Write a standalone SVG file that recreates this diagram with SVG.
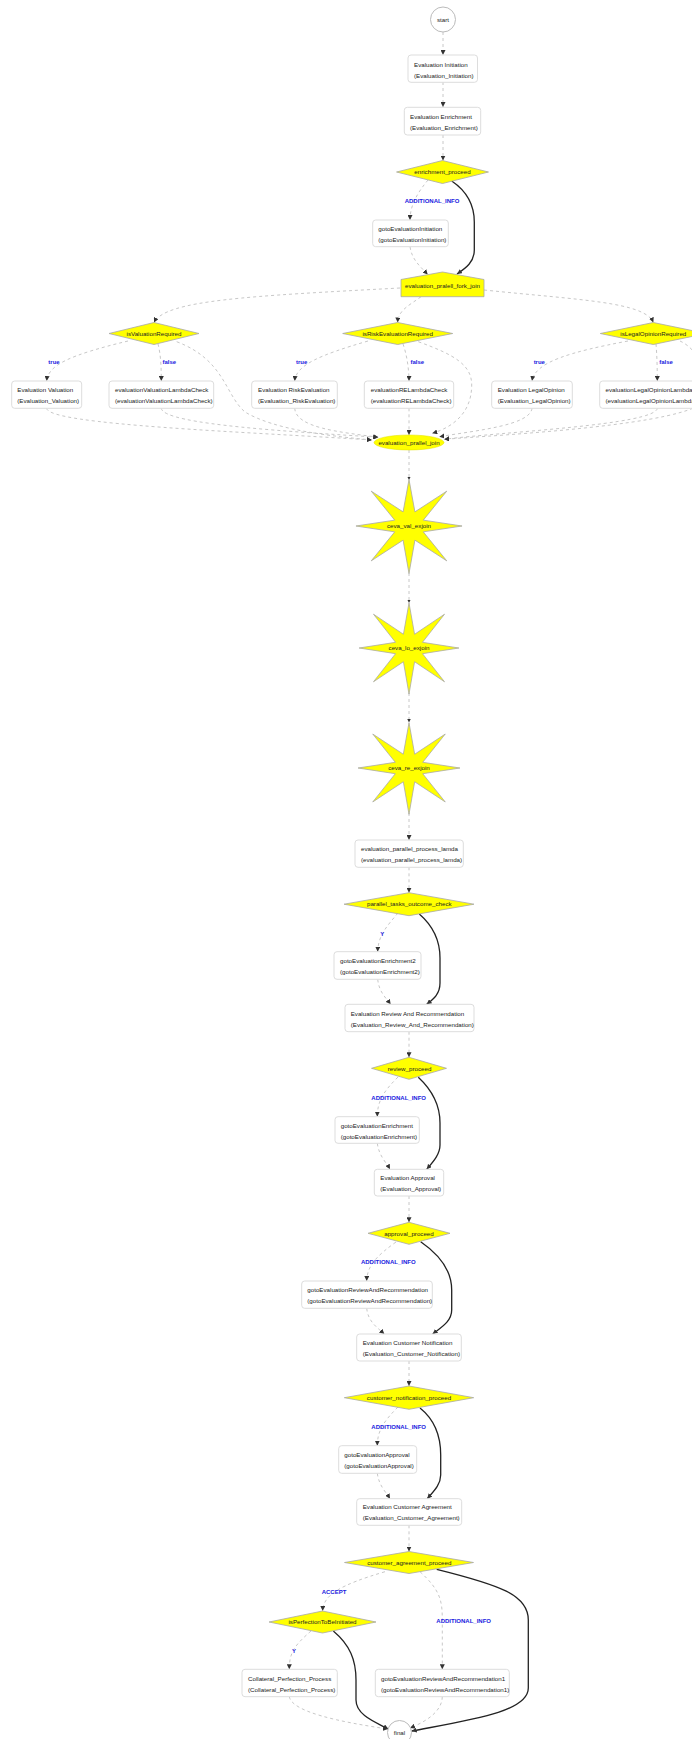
<svg xmlns="http://www.w3.org/2000/svg" xmlns:xlink="http://www.w3.org/1999/xlink" width="692" height="1739" viewBox="0 0 692 1739">
<style>
.box{fill:#fff;stroke:#ddd;stroke-width:1}
.dec{fill:#ffff00;stroke:#a8a8a8;stroke-width:0.8}
.circ{fill:#fff;stroke:#bbb;stroke-width:1}
.t{font-family:"Liberation Sans",Arial,sans-serif;font-size:6.2px;fill:#222}
.tc{text-anchor:middle}
.lbl{font-family:"Liberation Sans",Arial,sans-serif;font-size:6px;font-weight:bold;fill:#2020e0;text-anchor:middle}
.e{fill:none;stroke:#c8c8c8;stroke-width:1;stroke-dasharray:3,3;marker-end:url(#ah)}
.es{fill:none;stroke:#c8c8c8;stroke-width:1;stroke-dasharray:3,3;marker-end:url(#ahs)}
.s{fill:none;stroke:#222;stroke-width:1.3;marker-end:url(#ah)}
</style>
<defs>
<marker id="ah" viewBox="0 0 10 10" refX="10" refY="5" markerWidth="5" markerHeight="5" markerUnits="userSpaceOnUse" orient="auto"><path d="M0,0 L10,5 L0,10 z" fill="#333"/></marker>
<marker id="ahs" viewBox="0 0 10 10" refX="10" refY="5" markerWidth="3.5" markerHeight="3.5" markerUnits="userSpaceOnUse" orient="auto"><path d="M0,0 L10,5 L0,10 z" fill="#333"/></marker>
<polygon id="star" points="52,0 14,-5.8 37,-34.5 5.8,-14 0,-46 -5.8,-14 -37,-34.5 -14,-5.8 -52,0 -14,5.8 -37,34.5 -5.8,14 0,47 5.8,14 37,34.5 14,5.8"/>
</defs>
<rect width="692" height="1739" fill="#fff"/>

<g id="edges">
<path class="e" d="M443,32 L443,55"/>
<path class="e" d="M443,82 L443,107"/>
<path class="e" d="M443,135 L443,160.5"/>
<path class="e" d="M428,180 C418,192 410,205 410,220"/>
<path class="s" d="M451.7,181 C468,192 474.3,205 474.3,222 L474.3,250 C474.3,262 466,268 457,274"/>
<path class="e" d="M410,246.7 C412,260 420,266 427.7,274.5"/>
<path class="e" d="M400,288 C250,296 165,300 154,322.5"/>
<path class="e" d="M421,296.7 C410,305 398,310 397.7,322.5"/>
<path class="e" d="M484,290 C580,300 645,302 653.3,322.5"/>
<path class="e" d="M128,341 C70,355 48,365 46.7,381"/>
<path class="e" d="M158,344 C161,355 161.3,370 161.3,381"/>
<path class="e" d="M176.7,341.7 C225,360 225,395 245,412 C275,430 330,436 371.7,440"/>
<path class="e" d="M368,341 C320,355 296,365 294.7,381"/>
<path class="e" d="M403,344 C407,355 409,370 409,381"/>
<path class="e" d="M418.3,341.7 C455,355 471.7,365 471.7,385 C471.7,415 450,428 432.3,433.3"/>
<path class="e" d="M628,341 C570,352 535,362 532,381"/>
<path class="e" d="M656,344 C657,355 657.3,370 657.3,381"/>
<path class="e" d="M680,341 C700,350 712,380 705,400 C690,425 500,435 444.3,439.3"/>
<path class="e" d="M46.7,408.3 C48,425 250,432 371.7,440"/>
<path class="e" d="M161.3,408.3 C163,425 300,432 378.3,437.3"/>
<path class="e" d="M294.7,408.3 C296,428 340,432 378.3,437.3"/>
<path class="e" d="M409,408.3 L409,435"/>
<path class="e" d="M532,408.3 C530,425 480,430 439.3,436.7"/>
<path class="e" d="M657.3,408.3 C655,425 500,432 444.3,439.3"/>
<path class="es" d="M409,450 L409,480"/>
<path class="es" d="M409,573 L409,603"/>
<path class="es" d="M409,693 L409,722.5"/>
<path class="e" d="M409,813 L409,840"/>
<path class="e" d="M409,867.3 L409,892.7"/>
<path class="e" d="M398,913 C388,925 378,935 377.7,951.7"/>
<path class="s" d="M419.3,914 C432,925 440,940 440,958 L440,983 C440,995 432,1000 426.7,1004.3"/>
<path class="e" d="M377.7,979.3 C379,992 386,998 390.7,1004.3"/>
<path class="e" d="M409,1031.7 L409,1057.3"/>
<path class="e" d="M398,1077 C385,1090 377.3,1100 377.3,1116.7"/>
<path class="s" d="M418.3,1077.3 C432,1090 440,1105 440,1123 L440,1145 C440,1155 432,1163 426.7,1169.3"/>
<path class="e" d="M377.3,1143.3 C379,1156 386,1162 390,1169.3"/>
<path class="e" d="M409,1196 L409,1222.3"/>
<path class="e" d="M396,1242 C378,1255 367,1265 366.7,1281"/>
<path class="s" d="M420.7,1241.7 C440,1255 451.7,1270 451.7,1290 L451.7,1310 C451.7,1322 440,1328 432.7,1334"/>
<path class="e" d="M366.7,1308.3 C368,1322 378,1328 384.3,1334"/>
<path class="e" d="M409,1361 L409,1386"/>
<path class="e" d="M398,1407 C385,1420 377.3,1430 377.3,1445.7"/>
<path class="s" d="M420,1408 C435,1420 440.7,1435 440.7,1455 L440.7,1475 C440.7,1485 433,1492 427.3,1498.7"/>
<path class="e" d="M377.3,1473.3 C379,1486 386,1492 390,1498.7"/>
<path class="e" d="M409,1525.3 L409,1551.5"/>
<path class="e" d="M385,1571.7 C340,1585 323,1595 322.7,1611"/>
<path class="e" d="M420,1571.7 C440,1590 442.3,1600 442.3,1620 L442.3,1669.3"/>
<path class="s" d="M436.7,1569.3 C500,1585 528.3,1595 528.3,1620 L528.3,1688 C528.3,1712 470,1720 411.7,1731"/>
<path class="e" d="M311,1631 C295,1645 289.3,1652 289.3,1669.3"/>
<path class="s" d="M333.3,1631 C350,1645 356,1660 356,1680 L356,1700 C356,1715 375,1722 388.3,1729"/>
<path class="e" d="M289.3,1696.7 C292,1712 340,1722 388,1729"/>
<path class="e" d="M442.3,1696.7 C442,1712 425,1722 410,1728"/>
<text class="lbl" x="432" y="203">ADDITIONAL_INFO</text>
<text class="lbl" x="54" y="364">true</text>
<text class="lbl" x="169.3" y="364">false</text>
<text class="lbl" x="301.7" y="364">true</text>
<text class="lbl" x="417.3" y="364">false</text>
<text class="lbl" x="539.3" y="364">true</text>
<text class="lbl" x="666" y="364">false</text>
<text class="lbl" x="382.3" y="935.5">Y</text>
<text class="lbl" x="398.7" y="1100">ADDITIONAL_INFO</text>
<text class="lbl" x="388.3" y="1264">ADDITIONAL_INFO</text>
<text class="lbl" x="398.7" y="1429">ADDITIONAL_INFO</text>
<text class="lbl" x="334" y="1593.5">ACCEPT</text>
<text class="lbl" x="463.7" y="1623">ADDITIONAL_INFO</text>
<text class="lbl" x="294" y="1653">Y</text>
</g>

<g id="start"><circle class="circ" cx="443" cy="19.5" r="12.5"/><text class="t tc" x="443" y="21.7">start</text></g>
<g id="Evaluation_Initiation"><rect class="box" x="408" y="55" width="69.5" height="27.3" rx="3"/><text class="t" x="414" y="66.5">Evaluation Initiation</text><text class="t" x="414" y="77.5">(Evaluation_Initiation)</text></g>
<g id="Evaluation_Enrichment"><rect class="box" x="404.3" y="107.3" width="76.4" height="27.7" rx="3"/><text class="t" x="410" y="118.8">Evaluation Enrichment</text><text class="t" x="410" y="129.8">(Evaluation_Enrichment)</text></g>
<g id="enrichment_proceed"><polygon class="dec" points="396.5,172 442.5,160.5 488.5,172 442.5,183.5"/><text class="t tc" x="442.5" y="174.2">enrichment_proceed</text></g>
<g id="gotoEvaluationInitiation"><rect class="box" x="372.7" y="220" width="75.6" height="26.7" rx="3"/><text class="t" x="378.3" y="231.2">gotoEvaluationInitiation</text><text class="t" x="378.3" y="242">(gotoEvaluationInitiation)</text></g>
<g id="evaluation_pralell_fork_join"><polygon class="dec" points="401,279.5 442.5,272 484,279.5 484,296.7 401,296.7"/><text class="t tc" x="442.5" y="288">evaluation_pralell_fork_join</text></g>

<g id="isValuationRequired"><polygon class="dec" points="109,333.5 154,322.5 199,333.5 154,344.5"/><text class="t tc" x="154" y="335.7">isValuationRequired</text></g>
<g id="isRiskEvaluationRequired"><polygon class="dec" points="342.7,333.5 397.7,322.5 452.7,333.5 397.7,344.5"/><text class="t tc" x="397.7" y="335.7">isRiskEvaluationRequired</text></g>
<g id="isLegalOpinionRequired"><polygon class="dec" points="600.3,333.5 653.3,322.5 706.3,333.5 653.3,344.5"/><text class="t tc" x="653.3" y="335.7">isLegalOpinionRequired</text></g>

<g id="Evaluation_Valuation"><rect class="box" x="11.7" y="381" width="70" height="27.3" rx="3"/><text class="t" x="17.3" y="392.3">Evaluation Valuation</text><text class="t" x="17.3" y="403">(Evaluation_Valuation)</text></g>
<g id="evaluationValuationLambdaCheck"><rect class="box" x="109" y="381" width="104.7" height="27.3" rx="3"/><text class="t" x="115" y="392.3">evaluationValuationLambdaCheck</text><text class="t" x="115" y="403">(evaluationValuationLambdaCheck)</text></g>
<g id="Evaluation_RiskEvaluation"><rect class="box" x="251.7" y="381" width="85.6" height="27.3" rx="3"/><text class="t" x="258" y="392.3">Evaluation RiskEvaluation</text><text class="t" x="258" y="403">(Evaluation_RiskEvaluation)</text></g>
<g id="evaluationRELambdaCheck"><rect class="box" x="364.3" y="381" width="89.4" height="27.3" rx="3"/><text class="t" x="370.7" y="392.3">evaluationRELambdaCheck</text><text class="t" x="370.7" y="403">(evaluationRELambdaCheck)</text></g>
<g id="Evaluation_LegalOpinion"><rect class="box" x="491.7" y="381" width="80.6" height="27.3" rx="3"/><text class="t" x="497.7" y="392.3">Evaluation LegalOpinion</text><text class="t" x="497.7" y="403">(Evaluation_LegalOpinion)</text></g>
<g id="evaluationLegalOpinionLambdaCheck"><rect class="box" x="599.7" y="381" width="120" height="27.3" rx="3"/><text class="t" x="605.5" y="392.3">evaluationLegalOpinionLambdaCheck</text><text class="t" x="605.5" y="403">(evaluationLegalOpinionLambdaCheck)</text></g>

<g id="evaluation_prallel_join"><ellipse cx="409" cy="442.5" rx="35" ry="7.5" fill="#ffff00" stroke="#e0e000" stroke-width="0.5"/><text class="t tc" x="409" y="444.7">evaluation_prallel_join</text></g>
<g id="ceva_val_exjoin"><use xlink:href="#star" class="dec" transform="translate(409,526) scale(1.02,1.01)"/><text class="t tc" x="409" y="528.2">ceva_val_exjoin</text></g>
<g id="ceva_lo_exjoin"><use xlink:href="#star" class="dec" transform="translate(409,648) scale(0.96,0.98)"/><text class="t tc" x="409" y="649.6">ceva_lo_exjoin</text></g>
<g id="ceva_re_exjoin"><use xlink:href="#star" class="dec" transform="translate(409,768) scale(0.98,0.985)"/><text class="t tc" x="409" y="770">ceva_re_exjoin</text></g>

<g id="evaluation_parallel_process_lamda"><rect class="box" x="355" y="840" width="108.3" height="27.3" rx="3"/><text class="t" x="361" y="851">evaluation_parallel_process_lamda</text><text class="t" x="361" y="862.2">(evaluation_parallel_process_lamda)</text></g>
<g id="parallel_tasks_outcome_check"><polygon class="dec" points="344,904.2 409,892.7 474,904.2 409,915.7"/><text class="t tc" x="409.3" y="906.4">parallel_tasks_outcome_check</text></g>
<g id="gotoEvaluationEnrichment2"><rect class="box" x="334" y="951.7" width="87" height="27.6" rx="3"/><text class="t" x="340" y="963">gotoEvaluationEnrichment2</text><text class="t" x="340" y="974.2">(gotoEvaluationEnrichment2)</text></g>
<g id="Evaluation_Review_And_Recommendation"><rect class="box" x="345" y="1004.3" width="129" height="27.4" rx="3"/><text class="t" x="350.7" y="1015.6">Evaluation Review And Recommendation</text><text class="t" x="350.7" y="1026.6">(Evaluation_Review_And_Recommendation)</text></g>
<g id="review_proceed"><polygon class="dec" points="371.5,1068.3 409,1057.3 446.5,1068.3 409,1079.3"/><text class="t tc" x="409.5" y="1070.5">review_proceed</text></g>
<g id="gotoEvaluationEnrichment"><rect class="box" x="335" y="1116.7" width="84.3" height="26.6" rx="3"/><text class="t" x="340.7" y="1127.6">gotoEvaluationEnrichment</text><text class="t" x="340.7" y="1138.6">(gotoEvaluationEnrichment)</text></g>
<g id="Evaluation_Approval"><rect class="box" x="374.3" y="1169.3" width="69.4" height="26.7" rx="3"/><text class="t" x="380.3" y="1180">Evaluation Approval</text><text class="t" x="380.3" y="1191">(Evaluation_Approval)</text></g>
<g id="approval_proceed"><polygon class="dec" points="368,1233.3 409,1222.3 450,1233.3 409,1244.3"/><text class="t tc" x="409" y="1235.5">approval_proceed</text></g>
<g id="gotoEvaluationReviewAndRecommendation"><rect class="box" x="301.7" y="1281" width="130.6" height="27.3" rx="3"/><text class="t" x="307.3" y="1292.3">gotoEvaluationReviewAndRecommendation</text><text class="t" x="307.3" y="1303">(gotoEvaluationReviewAndRecommendation)</text></g>
<g id="Evaluation_Customer_Notification"><rect class="box" x="356.7" y="1334" width="104.6" height="27" rx="3"/><text class="t" x="362.7" y="1345">Evaluation Customer Notification</text><text class="t" x="362.7" y="1356.3">(Evaluation_Customer_Notification)</text></g>
<g id="customer_notification_proceed"><polygon class="dec" points="344.3,1397.7 409,1386 473.7,1397.7 409,1409.3"/><text class="t tc" x="409" y="1399.9">customer_notification_proceed</text></g>
<g id="gotoEvaluationApproval"><rect class="box" x="338.7" y="1445.7" width="78" height="27.6" rx="3"/><text class="t" x="344.3" y="1456.6">gotoEvaluationApproval</text><text class="t" x="344.3" y="1468">(gotoEvaluationApproval)</text></g>
<g id="Evaluation_Customer_Agreement"><rect class="box" x="356.7" y="1498.7" width="105" height="26.6" rx="3"/><text class="t" x="362.7" y="1509">Evaluation Customer Agreement</text><text class="t" x="362.7" y="1520">(Evaluation_Customer_Agreement)</text></g>
<g id="customer_agreement_proceed"><polygon class="dec" points="344.5,1562.5 409,1551.5 473.5,1562.5 409,1573.5"/><text class="t tc" x="409.3" y="1564.8">customer_agreement_proceed</text></g>
<g id="isPerfectionToBeInitiated"><polygon class="dec" points="269,1622 322.5,1611 376,1622 322.5,1633"/><text class="t tc" x="322.5" y="1624.2">isPerfectionToBeInitiated</text></g>
<g id="Collateral_Perfection_Process"><rect class="box" x="242" y="1669.3" width="95.3" height="27.4" rx="3"/><text class="t" x="248" y="1680.6">Collateral_Perfection_Process</text><text class="t" x="248" y="1691.6">(Collateral_Perfection_Process)</text></g>
<g id="gotoEvaluationReviewAndRecommendation1"><rect class="box" x="375.3" y="1669.3" width="134" height="27.4" rx="3"/><text class="t" x="381" y="1680.6">gotoEvaluationReviewAndRecommendation1</text><text class="t" x="381" y="1691.6">(gotoEvaluationReviewAndRecommendation1)</text></g>
<g id="final"><circle class="circ" cx="399.5" cy="1732.5" r="12"/><text class="t tc" x="399.5" y="1734.7">final</text></g>
</svg>
